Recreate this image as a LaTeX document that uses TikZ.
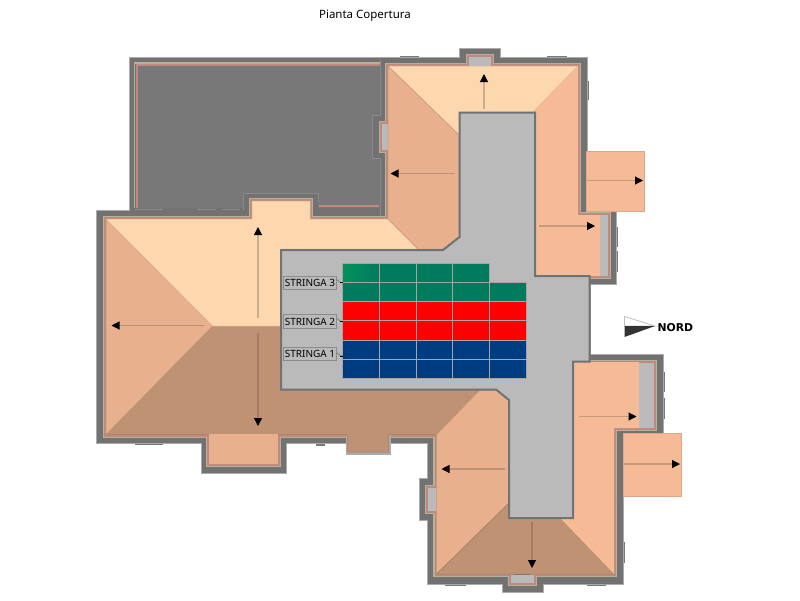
\documentclass[tikz,border=0pt]{standalone}
\usepackage{fontspec}
\setmainfont{Noto Sans}
\newfontfamily\nordfont{DejaVu Sans}
\usetikzlibrary{arrows.meta}
\definecolor{wallc}{HTML}{727272}
\definecolor{walledge}{HTML}{ABABAB}
\definecolor{terr}{HTML}{787878}
\definecolor{khaki}{HTML}{B4B196}
\definecolor{pinkw}{HTML}{BE8A80}
\definecolor{rlight}{HTML}{FDD8AE}
\definecolor{rmid}{HTML}{E9B08E}
\definecolor{rpeach}{HTML}{F5BB96}
\definecolor{rbrown}{HTML}{C09274}
\definecolor{roofgray}{HTML}{BABABA}
\definecolor{towerb}{HTML}{6E7375}
\definecolor{pgreen}{HTML}{007B5E}
\definecolor{pgreenl}{HTML}{00925C}
\definecolor{pred}{HTML}{FF0000}
\definecolor{pblue}{HTML}{003C80}
\definecolor{pedge}{HTML}{A8A4A4}
\tikzset{
  roofa/.style={fill=#1,draw=#1!85!black,line width=.5pt,line join=round},
  arr/.style={draw=#1,line width=1.1pt,-{Triangle[length=8pt,width=8pt,color=black]}},
  panel/.style={fill=#1,draw=pedge,line width=1pt},
  lbl/.style={fill=roofgray,draw=black!45,line width=.6pt,inner sep=0pt,minimum width=53.5pt,minimum height=13.5pt,font=\fontsize{10}{10}\selectfont,text=black},
  lead/.style={draw=black!55,line width=.6pt},
  tick/.style={draw=walledge!70!black,line width=1.6pt},
}
\begin{document}
\begin{tikzpicture}[x=1pt,y=-1pt]
\useasboundingbox (0,0) rectangle (800,600);
\fill[white] (0,0) rectangle (800,600);
\node[font=\fontsize{11.5}{11.5}\selectfont,text=black] (title) at (365,16) {Pianta Copertura};
% small ticks on the outside of the walls
\foreach \a/\b/\c/\d in {400/57/419/57,547/57/567/57,588/81/588/100,617/227/617/247,617/251/617/272,664/372/664/392,664/398/664/419,624/542/624/563,445/585/466/585,587/585/606/585,135/444/163/444,316/445/325/445}
  \draw[tick] (\a,\b) -- (\c,\d);
% outer wall
\draw[fill=wallc,draw=walledge,line width=.8pt,line join=miter]
 (129,57.5)--(459,57.5)--(459,48.5)--(500.5,48.5)--(500.5,57.5)--(587,57.5)--(587,208)--(616,208)--(616,284)--(590,284)--(590,354)--(663,354)--(663,436)--(623,436)--(623,584)--(543,584)--(543,592)--(502,592)--(502,584)--(427,584)--(427,520)--(419,520)--(419,478)--(427,478)--(427,443)--(286,443)--(286,473)--(201,473)--(201,443)--(96,443)--(96,210)--(129,210)--cycle;
% terrace
\fill[terr] (137,65) -- (379,65) -- (379,115) -- (372,115) -- (372,158) -- (379,158) -- (379,208) -- (318,208) -- (318,193) -- (243,193) -- (243,208) -- (137,208) -- cycle;
\draw[khaki,line width=1.2pt] (134.5,208)--(134.5,63)--(380,63);
\draw[pinkw,line width=2pt] (136.5,208)--(136.5,65)--(380,65);
\draw[pinkw,line width=2pt] (318.5,205.5)--(379,205.5);
\draw[black!46,line width=.8pt] (243.5,210)--(243.5,193)--(318.5,193)--(318.5,202);
\draw[black!46,line width=.8pt] (381,115)--(372.5,115)--(372.5,158)--(381,158);
\draw[black!46,line width=.8pt] (380,60)--(380,115) (380,158)--(380,216);
\draw[black!46,line width=.8pt] (135,209)--(163,209) (197,209)--(216,209) (222,209)--(240,209);
% wall lining under the roofs
\draw[khaki,line width=6.4pt,line join=miter]
 (590,363)--(654,363)--(654,428)--(614,428)--(614,574)--(534,574)--(534,583)--(511,583)--(511,574)--(436.5,574)--(436.5,511)--(428,511)--(428,488)--(436.5,488)--(436.5,435)--(277.5,435)--(277.5,464)--(209,464)--(209,435)--(106,435)--(106,219)--(252,219)--(252,201)--(310,201)--(310,219)--(388,219)--(388,150)--(382,150)--(382,124)--(388,124)--(388,66)--(469,66)--(469,57)--(491,57)--(491,66)--(578,66)--(578,215)--(608,215)--(608,276)--(590,276);
\draw[pinkw,line width=4pt,line join=miter]
 (590,363)--(654,363)--(654,428)--(614,428)--(614,574)--(534,574)--(534,583)--(511,583)--(511,574)--(436.5,574)--(436.5,511)--(428,511)--(428,488)--(436.5,488)--(436.5,435)--(277.5,435)--(277.5,464)--(209,464)--(209,435)--(106,435)--(106,219)--(252,219)--(252,201)--(310,201)--(310,219)--(388,219)--(388,150)--(382,150)--(382,124)--(388,124)--(388,66)--(469,66)--(469,57)--(491,57)--(491,66)--(578,66)--(578,215)--(608,215)--(608,276)--(590,276);
% roof-like inserts
\fill[roofgray] (469,57) rectangle (491,66);
\fill[roofgray] (382,124) rectangle (388,150);
\fill[roofgray] (511,575) rectangle (534,583);
\fill[roofgray] (428,488) rectangle (437,511);
\fill[roofgray] (600,215) rectangle (608,276);
\fill[roofgray] (639,363) rectangle (654,428);
\fill[walledge] (346,435) rectangle (391,454.5);
% attached flat roofs
\filldraw[fill=rpeach,draw=rpeach!90!black,line width=.4pt] (586.5,151) rectangle (644,211.5);
\filldraw[fill=rpeach,draw=rpeach!90!black,line width=.4pt] (623.5,433) rectangle (681,496.5);
% main block
\draw[roofa=rbrown] (212.5,326)--(281,326)--(281,390)--(480,390)--(436.5,434.5)--(388.5,434.5)--(388.5,452)--(347.5,452)--(347.5,434.5)--(106,434.5)--cycle;
\draw[roofa=rmid] (106,219)--(212.5,326)--(106,434.5)--cycle;
\fill[rmid] (209,434)rectangle(277.5,464);
\draw[roofa=rlight] (106,219)--(252,219)--(252,201)--(310,201)--(310,219)--(388,219)--(418,249)--(281,249)--(281,326)--(212.5,326)--cycle;
% top right block
\draw[roofa=rlight] (388,66)--(578,66)--(533,112)--(459,112)--(459,135)--cycle;
\draw[roofa=rmid] (388,66)--(459,135)--(459,237)--(443,249)--(418,249)--(388,219)--cycle;
\fill[rpeach] (578,66)--(533,112)--(535,276)--(600,276)--(600,215)--(578,215)--cycle;
% bottom right block
\draw[roofa=rmid] (436.5,434.5)--(480,390)--(496,390)--(509,400)--(509,503)--(436.5,574)--cycle;
\draw[roofa=rbrown] (509,503)--(509,518)--(560,518)--(614,574)--(436.5,574)--cycle;
\fill[rpeach] (573,362)--(639,362)--(639,428)--(614,428)--(614,574)--(560,518)--(573,518)--cycle;
% flat grey roof
\draw[fill=roofgray,draw=towerb,line width=2pt,line join=miter]
 (459.5,112.5)--(535,112.5)--(535,276)--(589.5,276)--(589.5,361.5)--(573,361.5)--(573,518)--(509,518)--(509,400)--(496,389.5)--(281,389.5)--(281,250)--(443,250)--(459.5,237)--cycle;
% slope arrows
\draw[arr=rlight!80!black] (258,318)--(258,227);
\draw[arr=rbrown!85!black] (258,333)--(258,426);
\draw[arr=rmid!82!black] (204,325.5)--(111.5,325.5);
\draw[arr=rlight!80!black] (484,109)--(484,74);
\draw[arr=rmid!82!black] (455,173.5)--(390.5,173.5);
\draw[arr=rpeach!82!black] (587,180.5)--(643,180.5);
\draw[arr=rpeach!82!black] (539,226)--(595,226);
\draw[arr=rmid!82!black] (505,469)--(441.5,469);
\draw[arr=rbrown!85!black] (532,522)--(532,568);
\draw[arr=rpeach!82!black] (579,416.5)--(636.5,416.5);
\draw[arr=rpeach!82!black] (624,464)--(680,464);
% panels
\foreach \x/\X in {379.3/416,416/452.7,452.7/489.3} \draw[panel=pgreen] (\x,263.5) rectangle (\X,282.3);
\draw[draw=pedge,line width=1pt,left color=pgreenl,right color=pgreen] (342.7,263.5) rectangle (379.3,282.3);
\foreach \x/\X in {342.7/379.3,379.3/416,416/452.7,452.7/489.3,489.3/526.7}{
  \draw[panel=pgreen] (\x,282.3) rectangle (\X,301);
  \draw[panel=pred] (\x,301) rectangle (\X,320.3);
  \draw[panel=pred] (\x,320.3) rectangle (\X,340);
  \draw[panel=pblue] (\x,340) rectangle (\X,359.3);
  \draw[panel=pblue] (\x,359.3) rectangle (\X,378);
}
% string labels
\node[lbl] (s3) at (310,282.7) {STRINGA 3};
\node[lbl] (s2) at (310,321.5) {STRINGA 2};
\node[lbl] (s1) at (310,353.8) {STRINGA 1};
\coordinate (e3) at (342.5,282.7);
\coordinate (e2) at (342.5,321.7);
\coordinate (e1) at (342.5,356);
\draw[lead] (s3.east) ++(0,-3) -- ++(3,2.5) -- (e3);
\draw[lead] (s2.east) ++(0,-3) -- ++(3,2.5) -- (e2);
\draw[lead] (s1.east) ++(0,-1) -- ++(3,2.5) -- (e1);
\foreach \p in {e3,e2,e1} \draw[black,line width=1pt] (\p) -- ++(-2.5,0);
% north mark
\coordinate (ntip) at (655,326);
\coordinate (ntl) at (624.5,316.5);
\coordinate (nbl) at (624.5,337);
\coordinate (nml) at (624.5,326);
\filldraw[fill=white,draw=black!25,line width=.8pt] (ntl)--(ntip)--(nml)--cycle;
\fill[black!80] (nml)--(ntip)--(nbl)--cycle;
\node[anchor=west,inner sep=0pt,font=\nordfont\fontsize{10.8}{10.8}\selectfont\bfseries,text=black] (nord) at (657.5,327.5) {NORD};
\end{tikzpicture}
\end{document}
